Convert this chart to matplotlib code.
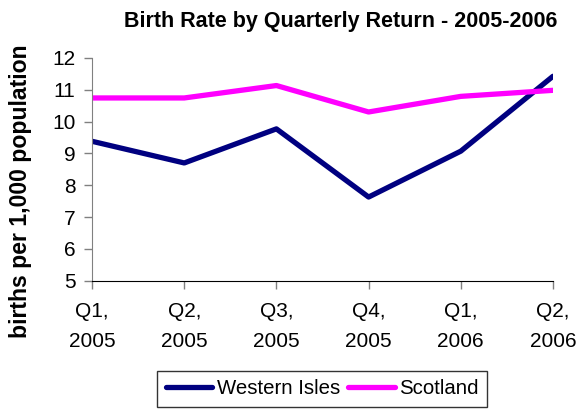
import matplotlib
matplotlib.use("Agg")
from matplotlib import pyplot as plt

plt.rcParams['font.family'] = ['Liberation Sans', 'DejaVu Sans']

# DATA
quarters = ["Q1,\n2005", "Q2,\n2005", "Q3,\n2005", "Q4,\n2005", "Q1,\n2006", "Q2,\n2006"]
western_isles = [9.38, 8.70, 9.77, 7.63, 9.07, 11.42]
scotland = [10.74, 10.74, 11.13, 10.30, 10.79, 10.98]

fig = plt.figure(figsize=(5.79, 4.13), dpi=100)
ax = fig.add_axes([0.159, 0.320, 0.796, 0.540])

x = range(len(quarters))
ax.plot(x, western_isles, color='#000080', linewidth=3.8, label='Western Isles', solid_capstyle='round')
ax.plot(x, scotland, color='#FF00FF', linewidth=3.8, label='Scotland', solid_capstyle='round')

ax.set_xlim(0, len(quarters) - 1)
ax.set_ylim(5, 12)
ax.set_yticks(range(5, 13))
ax.set_xticks(list(x))
ax.set_xticklabels(quarters, linespacing=1.75)
ax.tick_params(axis='both', labelsize=15, color='#808080', length=6, width=1)
ax.tick_params(axis='x', pad=9)
ax.tick_params(axis='y', pad=6)

for side in ['top', 'right']:
    ax.spines[side].set_visible(False)
ax.spines['left'].set_color('#808080')
ax.spines['bottom'].set_color('black')

fig.text(341 / 579, 1 - 21 / 413, "Birth Rate by Quarterly Return - 2005-2006",
         fontsize=15.5, weight='bold', ha='center', va='center')
fig.text(21 / 579, 1 - 191 / 413, "births per 1,000 population",
         fontsize=16.6, weight='bold', rotation=90, ha='center', va='center')

leg = fig.legend(loc='center', bbox_to_anchor=(322 / 579, 1 - 389 / 413), ncol=2, fontsize=14.7,
                 frameon=True, fancybox=False, edgecolor='black', handlelength=2.3,
                 handletextpad=0.2, columnspacing=0.4, borderpad=0.4)
leg.get_frame().set_linewidth(1)

plt.savefig('out.png', dpi=100)
